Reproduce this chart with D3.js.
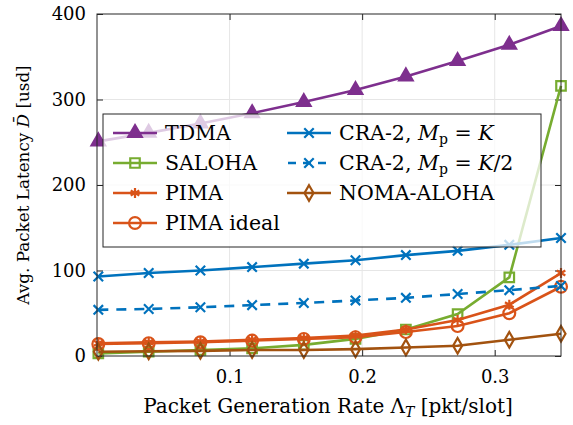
<!DOCTYPE html>
<html>
<head>
<meta charset="utf-8">
<script src="https://cdn.jsdelivr.net/npm/d3@7"></script>
<style>
html, body { margin: 0; padding: 0; background: #fff; overflow: hidden; }
svg { display: block; }
text { font-family: "DejaVu Serif"; fill: #000; }
</style>
</head>
<body>
<svg id="main" width="573" height="425"></svg>
<script>
const width = 573;
const height = 425;
const position = { left: 97, top: 14, right: 12, bottom: 69 };
const innerWidth = width - position.left - position.right;
const innerHeight = height - position.top - position.bottom;
const fontFamily = '"DejaVu Serif"';

// packet generation rate (x)
const rates = [0.001, 0.039, 0.078, 0.117, 0.156, 0.195, 0.233, 0.272, 0.311, 0.35];
const xTicks = [0.1, 0.2, 0.3];
const yTicks = [0, 100, 200, 300, 400];

const tdma = [251, 261, 272, 284, 297, 311, 327, 345, 364, 386];
const saloha = [3, 5, 7, 9, 13, 20, 31, 49, 92, 316];
const pima = [15, 16, 17, 19, 21, 24, 31, 42, 60, 97];
const pimaIdeal = [14, 15, 16, 18, 20, 22, 28, 35, 50, 81];
const craK = [93, 97, 100, 104, 108, 112, 118, 123, 130, 138];
const craK2 = [54, 55, 57, 59.5, 62, 65, 68, 72.5, 77, 82];
const noma = [5, 5.5, 6, 7, 7, 8, 10, 12, 19, 26];

const series = [
    { name: 'TDMA', values: tdma, color: '#7E2F8E', symbol: d3.symbolTriangle, size: 80, fill: true },
    { name: 'SALOHA', values: saloha, color: '#77AC30', symbol: d3.symbolSquare, size: 90, fill: false },
    { name: 'PIMA', values: pima, color: '#D95319', symbol: d3.symbolAsterisk, size: 70, fill: false },
    { name: 'PIMA ideal', values: pimaIdeal, color: '#D95319', symbol: d3.symbolCircle, size: 110, fill: false },
    { name: 'CRA-2, M_p = K', values: craK, color: '#0072BD', symbol: d3.symbolTimes, size: 60, fill: false },
    { name: 'CRA-2, M_p = K/2', values: craK2, color: '#0072BD', symbol: d3.symbolTimes, size: 60, fill: false, dash: '10,8' },
    { name: 'NOMA-ALOHA', values: noma, color: '#A2520F', symbol: d3.symbolDiamond, size: 70, fill: false }
];

const svg = d3.select('#main');
const mainGroup = svg
    .append('g')
    .attr('transform', `translate(${position.left}, ${position.top})`);

const xScale = d3.scaleLinear().domain([0, 0.35]).range([0, innerWidth]);
const yScale = d3.scaleLinear().domain([0, 400]).range([innerHeight, 0]);

// grid
mainGroup.append('g')
    .selectAll('line')
    .data(xTicks)
    .join('line')
    .attr('x1', d => xScale(d)).attr('x2', d => xScale(d))
    .attr('y1', 0).attr('y2', innerHeight)
    .attr('stroke', '#e6e6e6');
mainGroup.append('g')
    .selectAll('line')
    .data(yTicks.slice(1, -1))
    .join('line')
    .attr('x1', 0).attr('x2', innerWidth)
    .attr('y1', d => yScale(d)).attr('y2', d => yScale(d))
    .attr('stroke', '#e6e6e6');

// axes, ticks pointing inwards on all four sides
const xAxis = d3.axisBottom(xScale).tickValues(xTicks).tickFormat(d3.format('.1f'))
    .tickSizeInner(-6).tickSizeOuter(0).tickPadding(14);
const yAxis = d3.axisLeft(yScale).tickValues(yTicks).tickSizeInner(-6).tickSizeOuter(0).tickPadding(11);
const xAxisTop = d3.axisTop(xScale).tickValues(xTicks).tickSizeInner(-6).tickSizeOuter(0);
const yAxisRight = d3.axisRight(yScale).tickValues(yTicks).tickSizeInner(-6).tickSizeOuter(0);

const styleAxis = g => {
    g.attr('font-family', fontFamily);
    g.select('.domain').remove();
    g.selectAll('line').attr('stroke', '#262626');
    g.selectAll('text').attr('font-size', 18).attr('fill', '#000');
};
mainGroup.append('g').attr('transform', `translate(0, ${innerHeight})`).call(xAxis).call(styleAxis);
mainGroup.append('g').call(yAxis).call(styleAxis);
mainGroup.append('g').call(xAxisTop).call(styleAxis).call(g => g.selectAll('text').remove());
mainGroup.append('g').attr('transform', `translate(${innerWidth}, 0)`).call(yAxisRight).call(styleAxis)
    .call(g => g.selectAll('text').remove());

// lines and markers
const line = d3.line()
    .x((d, i) => xScale(rates[i]))
    .y(d => yScale(d));

series.forEach(s => {
    mainGroup.append('path')
        .attr('d', line(s.values))
        .attr('fill', 'none')
        .attr('stroke', s.color)
        .attr('stroke-width', 2.6)
        .attr('stroke-dasharray', s.dash || null);
    mainGroup.append('g')
        .selectAll('path')
        .data(s.values)
        .join('path')
        .attr('transform', (d, i) => `translate(${xScale(rates[i])}, ${yScale(d)})`)
        .attr('d', d3.symbol().type(s.symbol).size(s.size))
        .attr('fill', s.fill ? s.color : 'none')
        .attr('stroke', s.color)
        .attr('stroke-width', 2.2);
});

// axis frame
mainGroup.append('rect')
    .attr('width', innerWidth)
    .attr('height', innerHeight)
    .attr('fill', 'none')
    .attr('stroke', '#262626')
    .attr('stroke-width', 1);

// legend
const legend = svg.append('g').attr('transform', 'translate(103, 114)');
legend.append('rect')
    .attr('width', 438)
    .attr('height', 133)
    .attr('fill', '#fff')
    .attr('fill-opacity', 0.75)
    .attr('stroke', '#262626')
    .attr('stroke-width', 1);

const legendPos = [[0, 0], [0, 1], [0, 2], [0, 3], [1, 0], [1, 1], [1, 2]];
series.forEach((s, i) => {
    const [col, row] = legendPos[i];
    const g = legend.append('g')
        .attr('transform', `translate(${col === 0 ? 10 : 184}, ${19 + row * 30})`);
    g.append('line')
        .attr('x1', 0).attr('x2', 44)
        .attr('stroke', s.color)
        .attr('stroke-width', 2.6)
        .attr('stroke-dasharray', s.dash ? '8,7' : null)
        .attr('stroke-dashoffset', s.dash ? -1 : null);
    g.append('path')
        .attr('transform', 'translate(22, 0)')
        .attr('d', d3.symbol().type(s.symbol).size(s.size))
        .attr('fill', s.fill ? s.color : 'none')
        .attr('stroke', s.color)
        .attr('stroke-width', 2.2);
    const t = g.append('text')
        .attr('x', 52)
        .attr('y', 7)
        .attr('font-size', 20.5);
    if (s.name.startsWith('CRA-2')) {
        t.append('tspan').text('CRA-2, ');
        t.append('tspan').attr('font-style', 'italic').text('M');
        t.append('tspan').attr('font-size', 14).attr('dy', 4).text('p');
        t.append('tspan').attr('dy', -4).text(' = ');
        t.append('tspan').attr('font-style', 'italic').text('K');
        if (s.name.endsWith('K/2')) t.append('tspan').text('/2');
    } else {
        t.text(s.name);
    }
});

// axis labels
const xLabel = svg.append('text')
    .attr('text-anchor', 'middle')
    .attr('x', 328)
    .attr('y', 413)
    .attr('font-size', 20);
xLabel.append('tspan').text('Packet Generation Rate Λ');
xLabel.append('tspan').attr('font-style', 'italic').attr('font-size', 14).attr('dy', 4).text('T');
xLabel.append('tspan').attr('dy', -4).text(' [pkt/slot]');

const yLabel = svg.append('text')
    .attr('text-anchor', 'middle')
    .attr('transform', `translate(29, ${position.top + innerHeight / 2}) rotate(-90)`)
    .attr('font-size', 16.8);
yLabel.append('tspan').text('Avg. Packet Latency ');
yLabel.append('tspan').attr('font-style', 'italic').text('D̄');
yLabel.append('tspan').text(' [usd]');
</script>
</body>
</html>
